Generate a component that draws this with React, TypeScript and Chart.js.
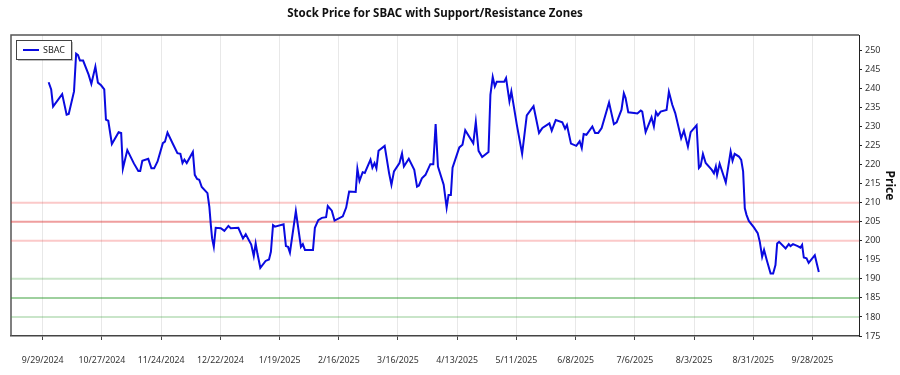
import React, { useEffect, useRef } from 'react';
import { Chart, registerables } from 'chart.js';

Chart.register(...registerables);

const CHART_TITLE = 'Stock Price for SBAC with Support/Resistance Zones';
const SERIES_NAME = 'SBAC';
const Y_TITLE = 'Price';

// day offsets counted from 9/29/2024 (day 0)
const priceDays = [
  2.8, 4.0, 4.9, 9.2, 11.3, 12.3, 14.8, 15.8, 16.7, 17.6, 19.1, 21.7, 23, 24.9, 26.1, 27.6, 29.1, 29.9, 31, 32.7,
  35.9, 37.1, 37.9, 40, 43.1, 45.2, 46.1, 47.1, 49.9, 51.4, 52.7, 54.3, 56.8, 57.8, 59, 61.4, 63.7, 65.1, 66.1, 67,
  68.1, 71, 71.9, 73, 74, 75.2, 77.9, 78.8, 79.5, 80.1, 80.9, 81.8, 84.2, 85.9, 87.8, 88.9, 92.5,
  94.7, 96, 98.6, 99.8, 100.7, 101.5, 102.9, 105.4, 107, 107.9, 108.9, 109.8, 113.9, 115, 116, 116.9, 119.7, 122.1, 123, 124,
  127.8, 128.7, 130.3, 132, 134, 134.8, 136.7, 138, 141.9, 143.5, 144.9, 148, 148.8, 149.8, 151.3, 152.3, 155, 155.9, 156.9, 157.8,
  158.8, 161.7, 163.8, 164.9, 166.1, 168.7, 169.9, 170.8, 173.1, 175.7, 177, 177.9, 179.3, 181, 183.3, 184.7, 185.8, 186.9,
  189.6, 191, 191.9, 193, 193.8, 197, 198.5, 199.8, 203.6, 204.8, 206.1, 207.8, 210.8, 211.7, 212.8, 213.8, 214.7, 218.2, 219.1, 220.7,
  221.6, 224.2, 226.7, 228.9, 232.1, 234.7, 236.3, 239.6, 240.7, 242.6, 245.7, 247, 247.9, 249.8, 252.3, 253.9, 254.9, 255.8, 257.1, 259.9,
  261.2, 262.7, 264.3, 267.8, 270.1, 271.4, 273.7, 274.8, 275.6, 276.9,
  279.7, 281.2, 282.8, 283.5, 285.1, 287.9, 289, 290, 290.9, 292.2, 295, 296.1, 297.7, 299.1, 301.9, 303.2, 305.1, 306.4, 309.2, 310.3,
  311.1, 312.2, 313.5, 316.4, 317.4, 318.3, 318.9, 320.1, 323, 325.3, 326.2, 327.2, 329.2, 330.3, 331.2, 332, 332.8, 333.9, 336.3, 338.1,
  339.1, 340.2, 341.1, 342.4, 344.2, 345.4, 346.5, 347.3, 348.2, 351.3, 352.8, 353.6, 354.8, 357, 358.3, 359.1, 359.9, 361.2, 362.2, 365.1,
  367,
];

const prices = [
  241.6, 239.7, 235.2, 238.5, 233.1, 233.3, 239.2, 249.1, 248.7, 247.3, 247.3, 243.6, 241.2, 245.7, 241.5, 240.8, 239.7, 231.8, 231.5, 225.4,
  228.5, 228.3, 218.9, 223.8, 220.3, 218.3, 218.3, 221, 221.5, 219, 219, 220.8, 225.6, 226, 228.4, 225.6, 223, 222.8, 220.4, 221.3,
  220.4, 223.3, 217.3, 216.2, 216, 214.1, 212.5, 208.9, 204.1, 200.6, 198.4, 203.4, 203.3, 202.6, 203.9, 203.3, 203.4,
  200.6, 201.7, 199, 196, 199.3, 196.7, 192.9, 194.7, 195.1, 197.1, 204.1, 203.7, 204.3, 198.6, 198.4, 196.9, 207.8, 198.4, 199.1, 197.6,
  197.6, 203.4, 205.4, 206, 206.2, 209.1, 207.9, 205.3, 206.4, 208.7, 212.9, 212.8, 218.9, 215.7, 218, 217.8, 221.3, 219.2, 220.4, 219,
  223.6, 224.9, 217.7, 214.7, 218.2, 220.4, 222.9, 219.5, 221.5, 218.6, 214.2, 214.5, 216.4, 217.3, 220.1, 220.1, 230.6, 219.5,
  214.7, 208.7, 212, 212, 219.2, 224.5, 225.2, 229, 225.6, 231.2, 223.6, 222, 223.3, 238.3, 243, 240.5, 241.7, 241.7, 242.7, 236.6,
  239.2, 230.4, 222.8, 232.9, 235.3, 228.3, 229.6, 230.8, 228.9, 231.7, 231.1, 229.4, 230.4, 225.5, 224.9, 226.1, 224.3, 228, 227.8, 230,
  228.3, 228.3, 229.6, 236.3, 230.6, 231.1, 234.4, 238.7, 237.5, 233.7,
  233.5, 233.4, 234.2, 233.9, 228.5, 232.4, 230, 233.8, 232.9, 233.9, 234.3, 239.1, 235.7, 233.5, 226.9, 228.9, 224.7, 228.5, 230.3, 219.1,
  219.6, 222.8, 220.4, 218.6, 217.7, 219.5, 217.3, 220.2, 215.3, 223.4, 221, 222.8, 222.1, 221.2, 218.2, 208.5, 206.8, 205.2, 203.5, 202,
  199.7, 195.8, 197.6, 194.9, 191.4, 191.4, 193.6, 199.3, 199.7, 198, 199.1, 198.6, 199.1, 198.6, 198.2, 198.9, 195.6, 195.4, 194.2, 196.2,
  191.8,
];

const resistanceLevels = [210, 205, 200];
const supportLevels = [190, 185, 180];

const X_MIN = -15;
const X_MAX = 386;
const X_STEP = 28;
const Y_MIN = 175;
const Y_MAX = 254;
const Y_STEP = 5;

const FONT = '"Noto Sans", "Open Sans", sans-serif';

function dayLabel(v: number): string {
  const d = new Date(2024, 8, 29 + v);
  return `${d.getMonth() + 1}/${d.getDate()}/${d.getFullYear()}`;
}

const framePlugin = {
  id: 'frame',
  beforeDatasetsDraw(chart: any) {
    const { ctx, chartArea: a } = chart;
    ctx.save();
    ctx.strokeStyle = '#555';
    ctx.lineWidth = 1.5;
    ctx.beginPath();
    ctx.moveTo(a.left, a.bottom);
    ctx.lineTo(a.left, a.top);
    ctx.lineTo(a.right, a.top);
    ctx.stroke();
    ctx.restore();
  },
};

const titlePlugin = {
  id: 'centeredTitle',
  afterDraw(chart: any) {
    const { ctx, chartArea: a } = chart;
    ctx.save();
    ctx.fillStyle = '#111';
    ctx.font = `bold 11.5px ${FONT}`;
    ctx.textAlign = 'center';
    ctx.textBaseline = 'middle';
    ctx.fillText(CHART_TITLE, (a.left + a.right) / 2, 14);
    ctx.restore();
  },
};

const legendPlugin = {
  id: 'boxLegend',
  afterDatasetsDraw(chart: any) {
    const { ctx, chartArea: a } = chart;
    const x = a.left + 5;
    const y = a.top + 5;
    const w = 55;
    const h = 19;
    ctx.save();
    ctx.fillStyle = 'rgba(0,0,0,0.25)';
    ctx.fillRect(x + 2, y + 2, w, h);
    ctx.fillStyle = '#fff';
    ctx.fillRect(x, y, w, h);
    ctx.strokeStyle = '#444';
    ctx.lineWidth = 1;
    ctx.strokeRect(x + 0.5, y + 0.5, w, h);
    ctx.strokeStyle = '#0a0ae0';
    ctx.lineWidth = 2;
    ctx.beginPath();
    ctx.moveTo(x + 7, y + h / 2 + 0.5);
    ctx.lineTo(x + 23, y + h / 2 + 0.5);
    ctx.stroke();
    ctx.fillStyle = '#222';
    ctx.font = `9px ${FONT}`;
    ctx.textAlign = 'left';
    ctx.textBaseline = 'middle';
    ctx.fillText(SERIES_NAME, x + 27, y + h / 2 + 0.5);
    ctx.restore();
  },
};

function levelDataset(level: number, color: string) {
  return {
    label: `level-${level}`,
    data: [
      { x: X_MIN, y: level },
      { x: X_MAX, y: level },
    ],
    borderColor: color,
    borderWidth: 2,
    pointRadius: 0,
    fill: false,
    order: 2,
  };
}

export default function App() {
  const canvasRef = useRef<HTMLCanvasElement | null>(null);

  useEffect(() => {
    if (!canvasRef.current) return;
    const series = priceDays.map((d, i) => ({ x: d, y: prices[i] }));
    const levelSets = [
      ...resistanceLevels.map((l, i) =>
        levelDataset(l, i === 1 ? 'rgba(220,40,40,0.45)' : 'rgba(240,60,60,0.28)')
      ),
      ...supportLevels.map((l, i) =>
        levelDataset(l, i === 1 ? 'rgba(40,150,40,0.45)' : 'rgba(60,160,60,0.28)')
      ),
    ];
    const chart = new Chart(canvasRef.current, {
      type: 'line',
      data: {
        datasets: [
          {
            label: SERIES_NAME,
            data: series,
            borderColor: '#0a0ae0',
            borderWidth: 2,
            pointRadius: 0,
            tension: 0,
            fill: false,
            order: 0,
          },
          ...levelSets,
        ] as any,
      },
      options: {
        animation: false,
        responsive: true,
        maintainAspectRatio: false,
        layout: { padding: { left: 11, top: 35, right: 0, bottom: 8 } },
        plugins: {
          legend: { display: false },
          title: { display: false },
          tooltip: { enabled: false },
        },
        scales: {
          x: {
            type: 'linear',
            min: X_MIN,
            max: X_MAX,
            afterBuildTicks: (scale: any) => {
              scale.ticks = scale.ticks.filter((t: any) => t.value % X_STEP === 0);
            },
            afterFit: (scale: any) => {
              scale.height = 31;
            },
            ticks: {
              stepSize: X_STEP,
              autoSkip: false,
              maxRotation: 0,
              padding: 15,
              color: '#333',
              font: { family: FONT, size: 8.8 },
              callback: (v: any) => dayLabel(Number(v)),
            },
            grid: {
              color: '#e8e8e8',
              lineWidth: 1,
              tickLength: 4,
              tickColor: '#444',
            },
            border: { color: '#444', width: 1.5 },
          },
          y: {
            type: 'linear',
            position: 'right',
            min: Y_MIN,
            max: Y_MAX,
            afterBuildTicks: (scale: any) => {
              scale.ticks = scale.ticks.filter((t: any) => t.value % Y_STEP === 0);
            },
            afterFit: (scale: any) => {
              scale.width = 41;
            },
            ticks: {
              stepSize: Y_STEP,
              padding: 3,
              color: '#333',
              font: { family: FONT, size: 9 },
            },
            grid: {
              drawOnChartArea: false,
              tickLength: 3,
              tickColor: '#222',
            },
            border: { color: '#222', width: 1, dash: [1, 1] },
            title: {
              display: true,
              text: Y_TITLE,
              color: '#111',
              font: { family: FONT, size: 12, weight: 'bold' },
              padding: { top: 3, bottom: 0 },
            },
          },
        },
      },
      plugins: [framePlugin, legendPlugin, titlePlugin],
    });
    return () => chart.destroy();
  }, []);

  return (
    <div style={{ position: 'fixed', left: 0, top: 0, width: 900, height: 375, background: '#fff' }}>
      <canvas ref={canvasRef} />
    </div>
  );
}
